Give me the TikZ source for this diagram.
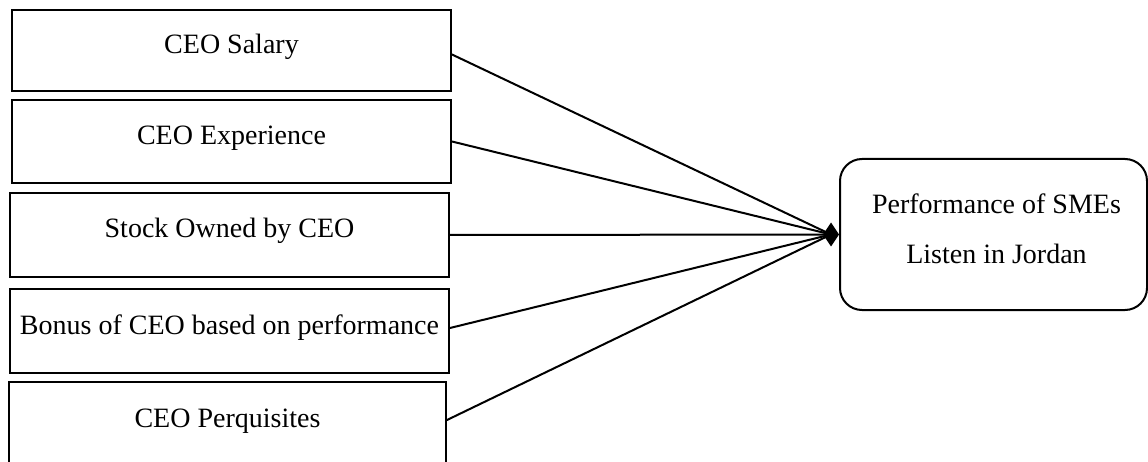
\documentclass[tikz,border=0pt]{standalone}
\usepackage{fontspec}
\setmainfont{Liberation Serif}
\begin{document}
\begin{tikzpicture}[x=1pt,y=-1pt,
  factor/.style={draw=black, line width=2pt, rectangle, minimum width=439pt, inner sep=0pt},
  outcome/.style={draw=black, line width=2pt, rectangle, rounded corners=22pt,
    minimum width=307pt, minimum height=151pt, inner sep=0pt},
  caption/.style={inner sep=0pt, font=\fontsize{28}{34}\selectfont},
  link/.style={line width=2pt, line cap=round}
]
\useasboundingbox (0,0) rectangle (1148,462);
\clip (0,0) rectangle (1148,462);

% independent variables (left column)
\node[factor, minimum height=81pt] (salary) at (231.5,50.5) {};
\node[caption] (salaryT) at ([yshift=4pt]salary.center) {CEO Salary};

\node[factor, minimum height=83pt] (exper) at (231.5,141.5) {};
\node[caption] (experT) at ([yshift=3pt]exper.center) {CEO Experience};

\node[factor, minimum height=84pt] (stock) at (229.5,235) {};
\node[caption] (stockT) at ([yshift=4pt]stock.center) {Stock Owned by CEO};

\node[factor, minimum height=84pt] (bonus) at (229.5,331) {};
\node[caption] (bonusT) at ([yshift=3pt]bonus.center) {Bonus of CEO based on performance};

\node[factor, minimum height=84pt, minimum width=437pt] (perq) at (227.5,424) {};
\node[caption] (perqT) at ([yshift=3pt]perq.center) {CEO Perquisites};

% dependent variable
\node[outcome] (perf) at (993.5,234.5) {};
\node[caption, align=center, font=\fontsize{28}{50}\selectfont] (perfT) at ([xshift=3pt,yshift=6pt]perf.center)
  {Performance of SMEs\\Listen in Jordan};

% connectors converging on the outcome
\coordinate (tip) at (perf.west);
\draw[link] ([yshift=-4pt]salary.east) -- ([xshift=-8pt]tip);
\draw[link] (exper.east) -- ([xshift=-8pt]tip);
\draw[link] (stock.east) -- ([xshift=-8pt]tip);
\draw[link] ([yshift=3pt]bonus.east) -- ([xshift=-8pt]tip);
\draw[link] ([yshift=4pt]perq.east) -- ([xshift=-8pt]tip);

% diamond head
\fill[black] (tip) -- ++(-8,-12) -- ++(-8,12) -- ++(8,12) -- cycle;
\end{tikzpicture}
\end{document}
